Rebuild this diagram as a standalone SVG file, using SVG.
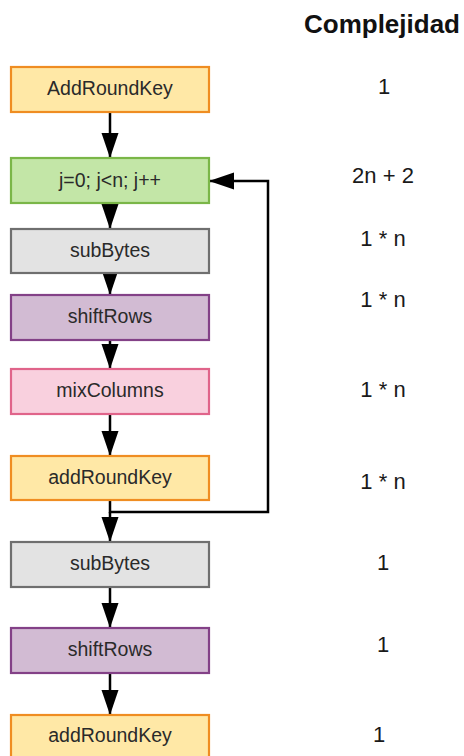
<svg xmlns="http://www.w3.org/2000/svg" width="464" height="756" viewBox="0 0 464 756">
<defs>
<style>
.box{stroke-width:2.2}
.lbl{font-family:"Liberation Sans",Arial,sans-serif;font-size:19.5px;fill:#2a2a2a;text-anchor:middle}
.cx{font-family:"Liberation Sans",Arial,sans-serif;font-size:22px;fill:#1a1a1a;text-anchor:middle}
.hd{font-family:"Liberation Sans",Arial,sans-serif;font-size:26px;font-weight:bold;fill:#111;text-anchor:middle}
.or{fill:#FFE8A6;stroke:#EF8D22}
.gr{fill:#C3E6A7;stroke:#7AB648}
.gy{fill:#E3E3E3;stroke:#6F6F6F}
.pu{fill:#D2BBD3;stroke:#834187}
.pk{fill:#F9D0DE;stroke:#E0648A}
.ln{fill:none;stroke:#000;stroke-width:2.5}
</style>
<marker id="ah" markerUnits="userSpaceOnUse" markerWidth="26" markerHeight="18" refX="25" refY="8.5" orient="auto">
<path d="M0,0 L25,8.5 L0,17 Z" fill="#000"/>
</marker>
</defs>
<text class="hd" x="382" y="33">Complejidad</text>
<g id="connectors">
<path class="ln" d="M110,112 V158" marker-end="url(#ah)"/>
<path class="ln" d="M110,203 V229" marker-end="url(#ah)"/>
<path class="ln" d="M110,273 V295" marker-end="url(#ah)"/>
<path class="ln" d="M110,340 V369" marker-end="url(#ah)"/>
<path class="ln" d="M110,414 V456" marker-end="url(#ah)"/>
<path class="ln" d="M110,500 V512 H268 V181 H209" marker-end="url(#ah)"/>
<path class="ln" d="M110,512 V542" marker-end="url(#ah)"/>
<path class="ln" d="M110,587 V628" marker-end="url(#ah)"/>
<path class="ln" d="M110,673 V715" marker-end="url(#ah)"/>
</g>
<g id="n1"><rect class="box or" x="11" y="67" width="198" height="45"/><text class="lbl" x="110" y="95">AddRoundKey</text></g>
<g id="n2"><rect class="box gr" x="11" y="158" width="198" height="45"/><text class="lbl" x="110" y="187">j=0; j&lt;n; j++</text></g>
<g id="n3"><rect class="box gy" x="11" y="229" width="198" height="44"/><text class="lbl" x="110" y="257">subBytes</text></g>
<g id="n4"><rect class="box pu" x="11" y="295" width="198" height="45"/><text class="lbl" x="110" y="323">shiftRows</text></g>
<g id="n5"><rect class="box pk" x="11" y="369" width="198" height="45"/><text class="lbl" x="110" y="397">mixColumns</text></g>
<g id="n6"><rect class="box or" x="11" y="456" width="198" height="44"/><text class="lbl" x="110" y="484">addRoundKey</text></g>
<g id="n7"><rect class="box gy" x="11" y="542" width="198" height="45"/><text class="lbl" x="110" y="570">subBytes</text></g>
<g id="n8"><rect class="box pu" x="11" y="628" width="198" height="45"/><text class="lbl" x="110" y="656">shiftRows</text></g>
<g id="n9"><rect class="box or" x="11" y="715" width="198" height="45"/><text class="lbl" x="110" y="742">addRoundKey</text></g>
<g id="complexity">
<text class="cx" x="384" y="94">1</text>
<text class="cx" x="383" y="183">2n + 2</text>
<text class="cx" x="383" y="246">1 * n</text>
<text class="cx" x="383" y="307">1 * n</text>
<text class="cx" x="383" y="397">1 * n</text>
<text class="cx" x="383" y="489">1 * n</text>
<text class="cx" x="383" y="570">1</text>
<text class="cx" x="383" y="652">1</text>
<text class="cx" x="379" y="742">1</text>
</g>
</svg>
